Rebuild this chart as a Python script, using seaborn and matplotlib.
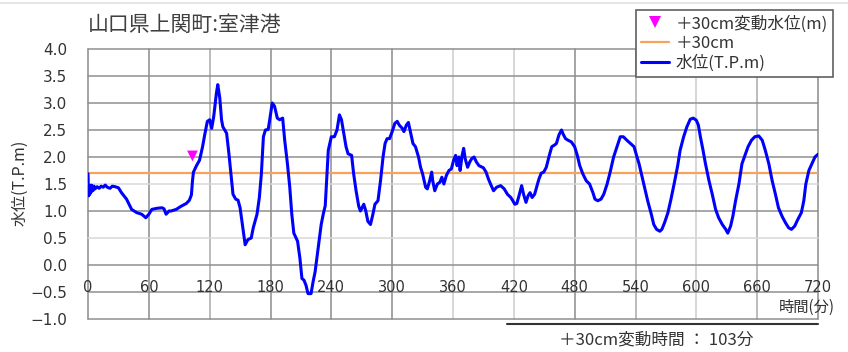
import numpy as np
import pandas as pd
import matplotlib
matplotlib.use("Agg")
import matplotlib.pyplot as plt
from matplotlib.lines import Line2D
import seaborn as sns

# Water level record (minutes after start, T.P. m)
minutes = [0, 0.5, 1, 1.5, 2, 2.5, 3, 3.5, 4, 5, 6, 7, 9, 11, 13, 15, 17, 19, 21.7, 24,
           26.7, 30, 33, 38, 43, 48, 53, 57, 60, 63, 68, 73, 75, 77, 80, 82, 87, 92, 97, 100,
           102, 103, 104, 107, 110, 113, 115, 117.7, 120, 122, 124, 126.7, 128, 130, 131.7, 133,
           136.7, 139, 141, 143, 145.7, 148, 150, 152, 155, 157.7, 161, 163, 166.7, 169, 171,
           173, 175, 177.7, 179, 181.7, 184, 186.7, 189, 192, 194, 196.7, 199, 201, 203, 206.7,
           209, 211, 213, 215, 217, 220, 222, 224, 227, 230, 232, 234, 235.7, 237, 240, 243,
           245.6, 248, 250, 252, 254.5, 256.5, 260, 262, 264.4, 267, 268.7, 272, 274, 276,
           278.6, 281, 283, 286, 288.5, 291, 293, 295, 297.4, 300, 302.7, 305, 307, 310, 311.6,
           314, 316, 318, 320.5, 323, 326, 328, 330, 333, 334.7, 337, 339, 340, 342, 344.6, 347,
           349, 351, 353.5, 356, 358.4, 360.6, 362.6, 364, 365.8, 367, 369, 370.5, 372, 374.4,
           376.6, 378.5, 380.8, 383, 385.6, 390, 392.6, 395, 397.7, 400, 403, 407, 410.5, 413.7,
           417, 419, 421, 423, 425.5, 427.7, 429.6, 432, 434, 436, 438, 440.5, 442.4, 444.7,
           447, 449.5, 452, 455, 457.4, 460, 462, 464.5, 467, 469, 471, 473.5, 476.7, 480,
           482.6, 485, 488, 491.4, 494.7, 498, 500, 502.8, 506, 508.7, 512, 515, 518.4, 521.7,
           525, 528, 531.5, 535, 538.6, 541, 543.5, 545.8, 549, 552, 555.6, 558, 560.8, 564,
           566, 568.6, 572, 575, 578.4, 581.6, 584, 587.5, 590.7, 594, 597, 600, 602, 604,
           606.6, 609, 612.5, 615.7, 619, 622, 625.6, 629, 631, 633.8, 636, 638.7, 642, 645,
           648, 651, 654.4, 657.7, 661.6, 665, 668, 671.5, 674.8, 678, 681, 684.6, 688, 691,
           693.8, 697, 700, 703.6, 706, 708, 711, 714, 717, 720]
level = [1.69, 1.28, 1.47, 1.30, 1.45, 1.33, 1.48, 1.36, 1.47, 1.38, 1.46, 1.41, 1.45, 1.42,
         1.46, 1.44, 1.48, 1.44, 1.42, 1.46, 1.45, 1.43, 1.34, 1.22, 1.03, 0.97, 0.94, 0.875,
         0.94, 1.03, 1.05, 1.06, 1.04, 0.94, 1.0, 1.0, 1.03, 1.09, 1.14, 1.2, 1.3, 1.55, 1.72,
         1.84, 1.94, 2.19, 2.4, 2.66, 2.69, 2.53, 2.75, 3.19, 3.34, 3.09, 2.69, 2.56, 2.44, 2.06,
         1.69, 1.31, 1.22, 1.2, 1.06, 0.78, 0.375, 0.47, 0.5, 0.69, 0.94, 1.25, 1.69, 2.375, 2.5,
         2.51, 2.66, 3.0, 2.94, 2.72, 2.69, 2.72, 2.31, 1.875, 1.44, 0.94, 0.59, 0.44, 0.125,
         -0.25, -0.28, -0.375, -0.53, -0.53, -0.31, -0.125, 0.31, 0.75, 0.94, 1.1, 1.69, 2.125,
         2.375, 2.375, 2.5, 2.78, 2.69, 2.47, 2.19, 2.06, 2.03, 1.69, 1.375, 1.09, 1.0, 1.125,
         1.0, 0.81, 0.75, 0.94, 1.125, 1.19, 1.56, 2.0, 2.25, 2.34, 2.34, 2.47, 2.625, 2.66,
         2.59, 2.53, 2.47, 2.59, 2.64, 2.47, 2.25, 2.19, 2.0, 1.81, 1.69, 1.44, 1.41, 1.56,
         1.72, 1.56, 1.375, 1.5, 1.53, 1.625, 1.5, 1.66, 1.75, 1.78, 1.94, 2.03, 1.84, 2.0,
         1.75, 2.03, 2.16, 1.97, 1.81, 1.91, 1.97, 2.0, 1.91, 1.84, 1.8, 1.72, 1.59, 1.47,
         1.375, 1.44, 1.47, 1.41, 1.31, 1.25, 1.19, 1.125, 1.14, 1.31, 1.47, 1.31, 1.16, 1.28,
         1.34, 1.25, 1.31, 1.44, 1.59, 1.7, 1.72, 1.81, 2.03, 2.19, 2.22, 2.25, 2.41, 2.5,
         2.41, 2.34, 2.31, 2.28, 2.19, 2.03, 1.84, 1.69, 1.56, 1.5, 1.34, 1.22, 1.19, 1.22,
         1.31, 1.5, 1.72, 2.0, 2.19, 2.375, 2.375, 2.31, 2.25, 2.19, 2.03, 1.875, 1.69, 1.44,
         1.19, 0.94, 0.75, 0.66, 0.625, 0.66, 0.78, 0.97, 1.22, 1.53, 1.84, 2.125, 2.375, 2.56,
         2.7, 2.72, 2.68, 2.59, 2.375, 2.125, 1.875, 1.56, 1.31, 1.03, 0.875, 0.75, 0.66, 0.59,
         0.72, 0.9, 1.19, 1.5, 1.875, 2.03, 2.19, 2.31, 2.375, 2.39, 2.31, 2.125, 1.875, 1.56,
         1.31, 1.06, 0.9, 0.78, 0.69, 0.66, 0.72, 0.84, 0.97, 1.19, 1.5, 1.75, 1.875, 2.0, 2.05]

threshold = 1.7          # +30cm line (m)
event_minute = [103]     # time the +30cm change was reached
event_level = [2.02]     # water level marked at that time

x_ticks = [0, 60, 120, 180, 240, 300, 360, 420, 480, 540, 600, 660, 720]
y_ticks = [-1.0, -0.5, 0.0, 0.5, 1.0, 1.5, 2.0, 2.5, 3.0, 3.5, 4.0]

title = "山口県上関町:室津港"
label_event = "＋30cm変動水位(m)"
label_threshold = "＋30cm"
label_level = "水位(T.P.m)"
x_title = "時間(分)"
summary = "＋30cm変動時間 ： 103分"

sns.set_theme(style="white")
plt.rcParams["font.family"] = ["Noto Sans CJK JP", "DejaVu Sans"]
plt.rcParams["axes.unicode_minus"] = True

W, H = 848, 352
fig = plt.figure(figsize=(W / 100, H / 100), dpi=100)
fig.patch.set_facecolor("white")
ax = fig.add_axes([88 / W, 1 - 319 / H, 730 / W, 270 / H])
ax.set_facecolor("white")

text_color = "#333333"

# grid
dark, mid, light = "#8c8c8c", "#a9a9a9", "#cdcdcd"
vcolors = {0: dark, 60: dark, 120: mid, 180: dark, 240: dark, 300: dark, 360: light,
           420: light, 480: dark, 540: mid, 600: light, 660: mid, 720: dark}
for xv in x_ticks:
    ax.axvline(xv, color=vcolors[xv], lw=1.1, zorder=0, clip_on=False)
for yv in y_ticks:
    c = "#d8d8d8" if yv in (0.5, 1.5) else "#8f8f8f"
    ax.axhline(yv, color=c, lw=1.1, zorder=0, clip_on=False)

df = pd.DataFrame({"minute": minutes, "level": level})
sns.lineplot(data=df, x="minute", y="level", ax=ax, color="#0000ff", lw=2.2,
             zorder=3, estimator=None, sort=False)
ax.axhline(threshold, color="#f7a35c", lw=1.6, zorder=2)
sns.scatterplot(x=event_minute, y=event_level, ax=ax, marker="v", s=60,
                color="#ff00ff", edgecolor="none", zorder=4)

ax.set_xlim(0, 720)
ax.set_ylim(-1.0, 4.0)
for s in ax.spines.values():
    s.set_visible(False)
ax.set_xticks([])
ax.set_yticks(y_ticks)
ax.set_yticklabels([f"{v:.1f}".replace("-", "\u2212") for v in y_ticks],
                   family="DejaVu Sans", fontsize=11, color=text_color)
ax.tick_params(axis="y", length=0, pad=15)
ax.set_xlabel("")
ax.set_ylabel("")

# hour labels sit on the -0.5 line
for xv in x_ticks:
    ax.text(xv, -0.42, str(xv), ha="center", va="center", fontsize=10.5,
            family="DejaVu Sans", color=text_color, zorder=5)

# titles and captions
fig.text(88 / W, 1 - 25 / H, title, ha="left", va="center", fontsize=15, color="#404040")
fig.text(20 / W, 1 - 183 / H, label_level, rotation=90, ha="center", va="center",
         fontsize=11.5, color=text_color)
fig.text(779 / W, 1 - 307 / H, x_title, ha="left", va="center", fontsize=11, color=text_color)
fig.add_artist(Line2D([507 / W, 818 / W], [1 - 324 / H, 1 - 324 / H], color="#333333",
                      lw=1.5, transform=fig.transFigure))
fig.text(656 / W, 1 - 340 / H, summary, ha="center", va="center", fontsize=12, color=text_color)
fig.add_artist(Line2D([0, 1], [1 - 3 / H, 1 - 3 / H], color="#e0e0e0", lw=1.2,
                      transform=fig.transFigure))

handles = [
    Line2D([], [], marker="v", ls="none", color="#ff00ff", markersize=8, markeredgewidth=0),
    Line2D([], [], color="#f7a35c", lw=1.6),
    Line2D([], [], color="#0000ff", lw=2.2),
]
leg = fig.legend(handles, [label_event, label_threshold, label_level], loc="upper left",
                 bbox_to_anchor=(636 / W, 1 - 10 / H), bbox_transform=fig.transFigure,
                 borderaxespad=0, frameon=True, fancybox=False, framealpha=1,
                 edgecolor="#606060", fontsize=12, labelspacing=0.15, handlelength=1.7,
                 handletextpad=0.4, borderpad=0.3)
leg.get_frame().set_linewidth(1.2)
for t in leg.get_texts():
    t.set_color(text_color)

fig.savefig("out.png", dpi=100, facecolor="white")
